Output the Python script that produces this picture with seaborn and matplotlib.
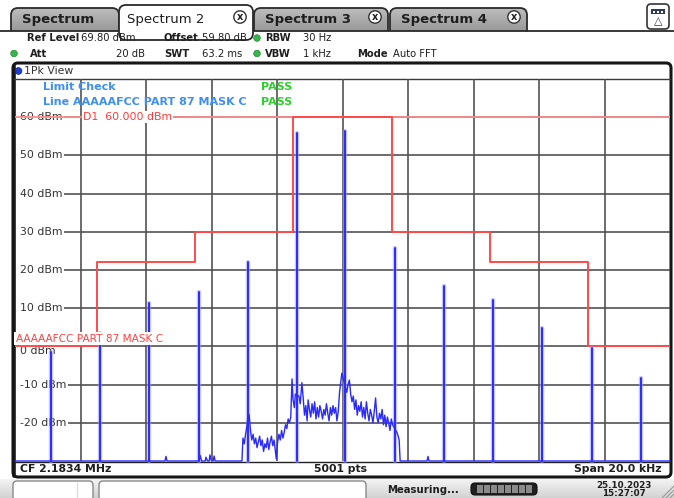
import numpy as np
import pandas as pd
import matplotlib
matplotlib.use("Agg")
import matplotlib.pyplot as plt
from matplotlib.patches import FancyBboxPatch, Rectangle, Circle
import matplotlib.transforms as mtransforms
import seaborn as sns

# ---------------------------------------------------------------- settings
CENTER_FREQ = "CF 2.1834 MHz"
SWEEP_POINTS = "5001 pts"
SPAN_TEXT = "Span 20.0 kHz"
SPAN_KHZ = 20.0
Y_MIN_DBM, Y_MAX_DBM = -30, 70
GRID_LEVELS_DBM = [60, 50, 40, 30, 20, 10, 0, -10, -20]
GRID_FREQS_KHZ = [-8, -6, -4, -2, 0, 2, 4, 6, 8]
DISPLAY_LINE_DBM = 60.0

# discrete spurs of the two-tone signal (offset from CF in kHz, peak level in dBm)
spur_freq_khz = [-8.90, -7.40, -5.91, -4.38, -2.89, -1.39, 0.08, 1.60, 3.10, 4.60, 6.09, 7.62, 9.11]
spur_level_dbm = [-1.5, 3.6, 11.3, 14.2, 22.0, 55.8, 56.3, 25.8, 15.8, 12.1, 4.9, -0.5, -8.2]

# swept trace: floor with small blips, then the noise shoulder around the carriers
floor_freq_khz = [-10.0, -5.42, -5.39, -5.36, -4.38, -4.35, -4.30, -4.19, -4.17, -4.12,
                  -4.07, -4.05, -4.00, -3.95, -3.92, -3.89, -3.07]
floor_level_dbm = [-30.0, -30.0, -28.8, -30.0, -30.0, -28.5, -30.0, -30.0, -29.0, -30.0,
                   -30.0, -28.4, -30.0, -30.0, -28.7, -30.0, -30.0]

noise_freq_khz = [
    -3.04, -3.00, -2.96, -2.92, -2.88, -2.85, -2.81, -2.77, -2.73, -2.69, -2.65, -2.61,
    -2.57, -2.53, -2.49, -2.45, -2.41, -2.37, -2.33, -2.29, -2.25, -2.21, -2.17, -2.13,
    -2.09, -2.05, -2.02, -1.98, -1.94, -1.90, -1.86, -1.82, -1.78, -1.74, -1.70, -1.66,
    -1.62, -1.58, -1.54, -1.51, -1.47, -1.44, -1.33, -1.29, -1.24, -1.20, -1.16, -1.12,
    -1.08, -1.05, -1.01, -0.97, -0.93, -0.89, -0.85, -0.81, -0.77, -0.73, -0.69, -0.65,
    -0.61, -0.57, -0.53, -0.49, -0.45, -0.41, -0.37, -0.33, -0.29, -0.25, -0.21, -0.17,
    -0.13, -0.09, -0.05, -0.02, 0.13, 0.17, 0.21, 0.25, 0.29, 0.33, 0.37, 0.41,
    0.45, 0.49, 0.53, 0.57, 0.61, 0.65, 0.69, 0.73, 0.77, 0.81, 0.85, 0.89,
    0.93, 0.97, 1.01, 1.05, 1.09, 1.13, 1.17, 1.21, 1.25, 1.29, 1.33, 1.37,
    1.41, 1.45, 1.49, 1.53, 1.66, 1.70, 1.73, 1.76,
]
noise_level_dbm = [
    -24.0, -25.5, -23.0, -21.0, -17.5, -18.0, -22.0, -24.5, -23.0, -25.5, -24.0, -26.5,
    -25.0, -23.5, -26.0, -24.5, -27.5, -25.5, -26.5, -24.0, -27.0, -25.0, -23.5, -26.0,
    -24.5, -27.5, -29.5, -25.0, -23.0, -24.5, -22.0, -24.0, -22.5, -20.5, -21.5, -19.0,
    -20.0, -18.5, -8.5, -14.0, -16.0, -12.5, -13.0, -15.0, -9.5, -13.5, -18.0, -15.5,
    -19.5, -14.0, -16.5, -18.5, -15.0, -17.5, -14.5, -19.0, -16.0, -18.5, -15.5, -17.0,
    -19.0, -16.5, -18.0, -15.0, -17.5, -19.5, -16.0, -18.0, -15.5, -17.5, -16.0, -19.5,
    -17.0, -12.0, -9.0, -7.0, -12.0, -10.0, -8.8, -12.5, -14.5, -13.0, -16.5, -14.0,
    -18.0, -15.5, -17.0, -14.5, -18.5, -16.0, -19.0, -14.5, -17.5, -19.5, -16.5, -18.0,
    -20.0, -17.0, -13.5, -18.5, -20.0, -17.5, -19.0, -16.5, -20.5, -18.0, -21.0, -18.5,
    -20.0, -22.0, -19.0, -20.5, -22.5, -23.5, -24.5, -30.0,
]

tail_freq_khz = [2.58, 2.61, 2.64, 10.0]
tail_level_dbm = [-30.0, -28.8, -30.0, -30.0]

# limit line "AAAAAFCC PART 87 MASK C"
limit_freq_khz = [-10.0, -7.5, -7.5, -4.5, -4.5, -1.5, -1.5, 1.5, 1.5, 4.5, 4.5, 7.5, 7.5, 10.0]
limit_level_dbm = [0, 0, 22, 22, 30, 30, 60, 60, 30, 30, 22, 22, 0, 0]

header_row1 = [("Ref Level", "69.80 dBm"), ("Offset", "59.80 dB"), ("RBW", "30 Hz")]
header_row2 = [("Att", "20 dB"), ("SWT", "63.2 ms"), ("VBW", "1 kHz"), ("Mode", "Auto FFT")]
tab_names = ["Spectrum", "Spectrum 2", "Spectrum 3", "Spectrum 4"]

# ---------------------------------------------------------------- colours
TRACE_BLUE = "#2a2aff"
TRACE_HALO = "#9a9aff"
LIMIT_RED = "#ff4a4a"
D1_RED = "#ff8c8c"
GRID = "#4f4f4f"
TEXT_DARK = "#1e1e1e"
LIMIT_TEXT_BLUE = "#3f8ff0"
PASS_GREEN = "#2bd02b"

sns.set_theme(style="white")
plt.rcParams["font.family"] = ["DejaVu Sans"]

W, H = 674, 498
fig = plt.figure(figsize=(W / 100, H / 100), dpi=100)

# screen layer in pixel coordinates (origin top-left)
ui = fig.add_axes([0, 0, 1, 1], zorder=0)
ui.set_xlim(0, W)
ui.set_ylim(H, 0)
ui.axis("off")


def gradient_patch(patch, top, bottom, x0, x1, y0, y1, z):
    ui.add_patch(patch)
    grad = np.linspace(0, 1, 64)[:, None]
    cmap = matplotlib.colors.LinearSegmentedColormap.from_list("g", [top, bottom])
    im = ui.imshow(grad, cmap=cmap, extent=(x0, x1, y1, y0), aspect="auto", zorder=z,
                   interpolation="bilinear")
    im.set_clip_path(patch)


# ---- tabs
tab_boxes = [(11, 119, 8), (119, 253, 5), (254, 388, 8), (390, 527, 8)]
for i, (name, (x0, x1, top)) in enumerate(zip(tab_names, tab_boxes)):
    active = i == 1
    if active:
        ui.add_patch(FancyBboxPatch((x0, top), x1 - x0, 40 - top,
                                    boxstyle="round,pad=0,rounding_size=7",
                                    fc="white", ec="#2a2a2a", lw=1.3, zorder=3))
    else:
        patch = FancyBboxPatch((x0, top), x1 - x0, 40 - top,
                               boxstyle="round,pad=0,rounding_size=7",
                               fc="#a4a4a4", ec="none", zorder=1)
        gradient_patch(patch, "#bdbdbd", "#8a8a8a", x0, x1, top, 40, 1)
        ui.add_patch(FancyBboxPatch((x0, top), x1 - x0, 40 - top,
                                    boxstyle="round,pad=0,rounding_size=7",
                                    fc="none", ec="#2a2a2a", lw=1.3, zorder=1.5))
    ui.text(x0 + (8 if active else 11), 19.5, name, fontsize=9.5,
            fontweight="normal" if active else "bold", color=TEXT_DARK,
            va="center", ha="left", zorder=4)
    if i > 0:
        cx = x1 - 13
        ui.add_patch(Circle((cx, 17), 6.2, fc="white", ec="#333333", lw=1.0, zorder=4))
        ui.text(cx, 17, "x", fontsize=7, fontweight="bold", ha="center", va="center",
                color=TEXT_DARK, zorder=5)

# header area below the tabs
ui.add_patch(Rectangle((0, 30.5), W, 33, fc="white", ec="none", zorder=2))
ui.plot([527, W], [30.5, 30.5], color="#2a2a2a", lw=1.3, zorder=3)
ui.plot([0, 119], [30.5, 30.5], color="#2a2a2a", lw=1.3, zorder=2.5)
ui.plot([253, 527], [30.5, 30.5], color="#2a2a2a", lw=1.3, zorder=2.5)
ui.add_patch(Rectangle((120, 29), 132, 3, fc="white", ec="none", zorder=3.5))

# trace-info icon at the right
ui.add_patch(FancyBboxPatch((647, 4), 22, 25, boxstyle="round,pad=0,rounding_size=4",
                            fc="white", ec="#333333", lw=1.2, zorder=3))
ui.add_patch(Rectangle((651, 9), 14, 5, fc="#303a58", ec="none", zorder=4))
for dx in (653, 657, 661):
    ui.add_patch(Rectangle((dx, 10.5), 2, 2, fc="white", ec="none", zorder=5))
ui.text(658, 21.5, "△", fontsize=8, ha="center", va="center", color="#333366", zorder=5)

# header values
hdr_font = dict(fontsize=7.2, color=TEXT_DARK, va="center", zorder=4)
row1_label_x = [27, 164, 265]
row1_value_x = [81, 202, 303]
for (lab, val), xl, xv in zip(header_row1, row1_label_x, row1_value_x):
    ui.text(xl, 38, lab, fontweight="bold", **hdr_font)
    ui.text(xv, 38, val, **hdr_font)
row2_label_x = [30, 164, 265, 357]
row2_value_x = [116, 202, 303, 393]
for (lab, val), xl, xv in zip(header_row2, row2_label_x, row2_value_x):
    ui.text(xl, 53.5, lab, fontweight="bold", **hdr_font)
    ui.text(xv, 53.5, val, **hdr_font)
for cx, cy in [(257, 38), (257, 53.5), (14, 53.5)]:
    ui.add_patch(Circle((cx, cy), 3.3, fc="#35b54a", ec="#2a8a3a", lw=0.5, zorder=4))

# diagram frame
ui.add_patch(FancyBboxPatch((13, 63), 658, 414, boxstyle="round,pad=0,rounding_size=5",
                            fc="white", ec="#161616", lw=2.2, zorder=2))
ui.plot([13.5, 13.5], [66, 476], color="#161616", lw=2.6, zorder=3)
ui.plot([14, 670], [79, 79], color="#3a3a3a", lw=1.0, zorder=3)
ui.add_patch(Circle((18.5, 71), 3.4, fc="#1c3fd0", ec="#10208a", lw=0.5, zorder=4))
ui.text(23.5, 71, "1Pk View", fontsize=7.8, color="#333333", va="center", zorder=4)
ui.plot([14, 670], [461.5, 461.5], color="#222222", lw=1.0, zorder=3)
ui.text(20, 469, CENTER_FREQ, fontsize=7.8, fontweight="bold", color=TEXT_DARK, va="center", zorder=4)
ui.text(341, 469, SWEEP_POINTS, fontsize=7.8, fontweight="bold", color=TEXT_DARK,
        va="center", ha="center", zorder=4)
ui.text(662, 469, SPAN_TEXT, fontsize=7.8, fontweight="bold", color=TEXT_DARK,
        va="center", ha="right", zorder=4)

# status bar
sb = Rectangle((0, 479), W, 19, fc="none", ec="none", zorder=1)
gradient_patch(sb, "#f4f4f4", "#d2d2d2", 0, W, 479, 498, 1)
ui.add_patch(FancyBboxPatch((13, 481), 80, 20, boxstyle="round,pad=0,rounding_size=4",
                            fc="white", ec="#8a8a8a", lw=1.0, zorder=2))
ui.plot([77, 77], [483, 498], color="#dddddd", lw=1.0, zorder=3)
ui.add_patch(FancyBboxPatch((99, 481), 267, 20, boxstyle="round,pad=0,rounding_size=4",
                            fc="white", ec="#8a8a8a", lw=1.0, zorder=2))
ui.text(387, 489.5, "Measuring...", fontsize=7.3, fontweight="bold", color=TEXT_DARK,
        va="center", zorder=3)
ui.add_patch(FancyBboxPatch((471, 483), 66, 12, boxstyle="round,pad=0,rounding_size=4",
                            fc="#202020", ec="#101010", lw=0.8, zorder=2))
for k in range(8):
    ui.add_patch(Rectangle((477 + k * 7, 485), 5.5, 8, fc="#8a8a8a", ec="none", zorder=3))
ui.text(624, 485, "25.10.2023", fontsize=6.3, fontweight="bold", color=TEXT_DARK,
        ha="center", va="center", zorder=3)
ui.text(624, 493.5, "15:27:07", fontsize=6.3, fontweight="bold", color=TEXT_DARK,
        ha="center", va="center", zorder=3)
for d in (4, 8, 12):
    ui.plot([W - d, W], [H, H - d], color="#9a9a9a", lw=0.8, zorder=3)

# ---------------------------------------------------------------- diagram
ax = fig.add_axes([15 / W, (H - 461) / H, 655 / W, 382 / H], zorder=1)
ax.set_facecolor("none")
ax.set_xlim(-SPAN_KHZ / 2, SPAN_KHZ / 2)
ax.set_ylim(Y_MIN_DBM, Y_MAX_DBM)
ax.set_xticks([])
ax.set_yticks([])
for s in ax.spines.values():
    s.set_visible(False)

for f in GRID_FREQS_KHZ:
    ax.axvline(f, color=GRID, lw=1.3, alpha=0.9, zorder=1)
for lvl in GRID_LEVELS_DBM:
    ax.axhline(lvl, xmin=0.066, color=GRID, lw=1.3, alpha=0.9, zorder=1)

ytrans = mtransforms.blended_transform_factory(ax.transAxes, ax.transData)
for lvl in GRID_LEVELS_DBM:
    ax.text(0.0075, lvl - (1.2 if lvl == 0 else 0), f"{lvl} dBm", transform=ytrans,
            fontsize=7.8, color="#333333", va="center", ha="left", zorder=2,
            bbox=dict(boxstyle="square,pad=0.12", fc="white", ec="none"))

# display line D1
ax.axhline(DISPLAY_LINE_DBM, color=D1_RED, lw=1.3, zorder=3)
ax.text(-7.92, DISPLAY_LINE_DBM, "D1  60.000 dBm", fontsize=7.8, color="#ff3a3a",
        va="center", ha="left", zorder=3.5,
        bbox=dict(boxstyle="square,pad=0.1", fc="white", ec="none"))

# limit line
sns.lineplot(x=limit_freq_khz, y=limit_level_dbm, sort=False, estimator=None,
             color=LIMIT_RED, lw=1.4, ax=ax, zorder=3)

# trace: floor, noise shoulder, floor; then the spurs
trace = pd.DataFrame({
    "freq_khz": floor_freq_khz + noise_freq_khz + tail_freq_khz,
    "level_dbm": floor_level_dbm + noise_level_dbm + tail_level_dbm,
})
spurs = pd.DataFrame({
    "spur": np.repeat(np.arange(len(spur_freq_khz)), 2),
    "freq_khz": np.repeat(spur_freq_khz, 2),
    "level_dbm": np.ravel([[Y_MIN_DBM, lvl] for lvl in spur_level_dbm]),
})
n_before = len(ax.lines)
sns.lineplot(data=spurs, x="freq_khz", y="level_dbm", units="spur", estimator=None,
             sort=False, color=TRACE_HALO, lw=3.2, alpha=0.55, ax=ax, zorder=3.8)
sns.lineplot(data=trace, x="freq_khz", y="level_dbm", sort=False, estimator=None,
             color=TRACE_BLUE, lw=1.0, ax=ax, zorder=4)
sns.lineplot(data=spurs, x="freq_khz", y="level_dbm", units="spur", estimator=None,
             sort=False, color=TRACE_BLUE, lw=1.4, ax=ax, zorder=4)
for ln in ax.lines[n_before:]:
    ln.set_clip_on(False)
ax.set_xlabel("")
ax.set_ylabel("")

ax.text(0.0015, 2.0, "AAAAAFCC PART 87 MASK C", transform=ytrans, fontsize=7.6,
        color="#ff4040", va="center", ha="left", zorder=4.5,
        bbox=dict(boxstyle="square,pad=0.15", fc="white", ec="none"))

# limit check summary
ax.text(43, 87, "Limit Check", transform=ui.transData, fontsize=8, fontweight="bold",
        color=LIMIT_TEXT_BLUE, va="center", zorder=5)
ax.text(43, 102, "Line AAAAAFCC PART 87 MASK C", transform=ui.transData, fontsize=8,
        fontweight="bold", color=LIMIT_TEXT_BLUE, va="center", zorder=5)
for yy in (87, 102):
    ax.text(261, yy, "PASS", transform=ui.transData, fontsize=8, fontweight="bold",
            color=PASS_GREEN, va="center", zorder=5)

fig.savefig("out.png", dpi=100)
